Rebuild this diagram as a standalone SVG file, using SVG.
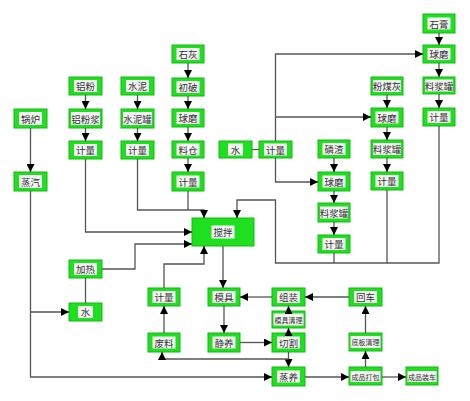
<svg xmlns="http://www.w3.org/2000/svg" width="470" height="401" viewBox="0 0 470 401">
<style>
.n{fill:#1fe01f;stroke:#17b817;stroke-width:1}
.tb{fill:#f4f4f4}
.t{font-family:"Noto Sans CJK SC","Noto Sans CJK JP",sans-serif;font-size:9.5px;fill:#333;text-anchor:middle;dominant-baseline:central}
.c path{fill:none;stroke:#555;stroke-width:1.3}
.c path.a{marker-end:url(#ah)}
</style>
<defs>
<marker id="ah" markerUnits="userSpaceOnUse" markerWidth="8" markerHeight="8" refX="8" refY="4" orient="auto">
<path d="M0,0 L8,4 L0,8 z" fill="#000"/>
</marker>
</defs>
<rect width="470" height="401" fill="#fff"/>
<g id="nodes">
<g id="n-lvfen"><rect class="n" x="69" y="77" width="33" height="18"/><rect class="tb" x="74" y="80" width="23" height="12"/><text class="t" x="85.5" y="86">铝粉</text></g>
<g id="n-lvfenjiang"><rect class="n" x="69" y="109" width="33" height="19"/><rect class="tb" x="71" y="112" width="29" height="13"/><text class="t" x="85.5" y="118.5">铝粉浆</text></g>
<g id="n-jl-a"><rect class="n" x="69" y="141" width="33" height="18"/><rect class="tb" x="74" y="144" width="23" height="12"/><text class="t" x="85.5" y="150">计量</text></g>
<g id="n-shuini"><rect class="n" x="121" y="77" width="33" height="18"/><rect class="tb" x="126" y="80" width="23" height="12"/><text class="t" x="137.5" y="86">水泥</text></g>
<g id="n-shuiniguan"><rect class="n" x="121" y="109" width="33" height="19"/><rect class="tb" x="123" y="112" width="29" height="13"/><text class="t" x="137.5" y="118.5">水泥罐</text></g>
<g id="n-jl-b"><rect class="n" x="121" y="141" width="33" height="18"/><rect class="tb" x="126" y="144" width="23" height="12"/><text class="t" x="137.5" y="150">计量</text></g>
<g id="n-guolu"><rect class="n" x="14" y="109" width="33" height="19"/><rect class="tb" x="19" y="112" width="23" height="13"/><text class="t" x="30.5" y="118.5">锅炉</text></g>
<g id="n-zhengqi"><rect class="n" x="14" y="172" width="33" height="19"/><rect class="tb" x="19" y="175" width="23" height="13"/><text class="t" x="30.5" y="181.5">蒸汽</text></g>
<g id="n-shihui"><rect class="n" x="172" y="45" width="32" height="18"/><rect class="tb" x="176.5" y="48" width="23" height="12"/><text class="t" x="188" y="54">石灰</text></g>
<g id="n-chupo"><rect class="n" x="172" y="78" width="32" height="18"/><rect class="tb" x="176.5" y="81" width="23" height="12"/><text class="t" x="188" y="87">初破</text></g>
<g id="n-qiumo1"><rect class="n" x="172" y="109" width="32" height="18"/><rect class="tb" x="176.5" y="112" width="23" height="12"/><text class="t" x="188" y="118">球磨</text></g>
<g id="n-liaocang"><rect class="n" x="172" y="141" width="32" height="17"/><rect class="tb" x="176.5" y="143.5" width="23" height="12"/><text class="t" x="188" y="149.5">料仓</text></g>
<g id="n-jl-c"><rect class="n" x="172" y="172" width="32" height="19"/><rect class="tb" x="176.5" y="175.5" width="23" height="12"/><text class="t" x="188" y="181.5">计量</text></g>
<g id="n-shui1"><rect class="n" x="219" y="141" width="33" height="17"/><rect class="tb" x="228" y="143.5" width="15" height="12"/><text class="t" x="235.5" y="149.5">水</text></g>
<g id="n-jl-d"><rect class="n" x="259" y="141" width="33" height="17"/><rect class="tb" x="264" y="143.5" width="23" height="12"/><text class="t" x="275.5" y="149.5">计量</text></g>
<g id="n-shigao"><rect class="n" x="423" y="14" width="32" height="19"/><rect class="tb" x="427.5" y="17.5" width="23" height="12"/><text class="t" x="439" y="23.5">石膏</text></g>
<g id="n-qiumo2"><rect class="n" x="423" y="45" width="32" height="18"/><rect class="tb" x="427.5" y="48" width="23" height="12"/><text class="t" x="439" y="54">球磨</text></g>
<g id="n-ljg2"><rect class="n" x="423" y="77" width="32" height="17"/><rect class="tb" x="425" y="79.5" width="28" height="12"/><text class="t" x="439" y="85.5">料浆罐</text></g>
<g id="n-jl-e"><rect class="n" x="423" y="108" width="32" height="18"/><rect class="tb" x="427.5" y="111" width="23" height="12"/><text class="t" x="439" y="117">计量</text></g>
<g id="n-fenmeihui"><rect class="n" x="371" y="77" width="32" height="18"/><rect class="tb" x="373" y="80" width="28" height="12"/><text class="t" x="387" y="86">粉煤灰</text></g>
<g id="n-qiumo3"><rect class="n" x="371" y="108" width="32" height="19"/><rect class="tb" x="375.5" y="111.5" width="23" height="12"/><text class="t" x="387" y="117.5">球磨</text></g>
<g id="n-ljg3"><rect class="n" x="371" y="140" width="32" height="18"/><rect class="tb" x="373" y="143" width="28" height="12"/><text class="t" x="387" y="149">料浆罐</text></g>
<g id="n-jl-f"><rect class="n" x="371" y="172" width="32" height="18"/><rect class="tb" x="375.5" y="175" width="23" height="12"/><text class="t" x="387" y="181">计量</text></g>
<g id="n-linzha"><rect class="n" x="318" y="140" width="32" height="18"/><rect class="tb" x="322.5" y="143" width="23" height="12"/><text class="t" x="334" y="149">磷渣</text></g>
<g id="n-qiumo4"><rect class="n" x="318" y="172" width="32" height="19"/><rect class="tb" x="322.5" y="175.5" width="23" height="12"/><text class="t" x="334" y="181.5">球磨</text></g>
<g id="n-ljg4"><rect class="n" x="318" y="203" width="32" height="19"/><rect class="tb" x="320" y="206.5" width="28" height="12"/><text class="t" x="334" y="212.5">料浆罐</text></g>
<g id="n-jl-g"><rect class="n" x="318" y="235" width="32" height="18"/><rect class="tb" x="322.5" y="238" width="23" height="12"/><text class="t" x="334" y="244">计量</text></g>
<g id="n-jiaoban"><rect class="n" x="192" y="218" width="62" height="28"/><rect class="tb" x="211.5" y="225.5" width="23" height="13"/><text class="t" x="223" y="232">搅拌</text></g>
<g id="n-jiare"><rect class="n" x="69" y="260" width="33" height="18"/><rect class="tb" x="74" y="263" width="23" height="12"/><text class="t" x="85.5" y="269">加热</text></g>
<g id="n-shui2"><rect class="n" x="69" y="303" width="33" height="18"/><rect class="tb" x="78" y="306" width="15" height="12"/><text class="t" x="85.5" y="312">水</text></g>
<g id="n-jl-h"><rect class="n" x="148" y="288" width="32" height="18"/><rect class="tb" x="152.5" y="291" width="23" height="12"/><text class="t" x="164" y="297">计量</text></g>
<g id="n-feiliao"><rect class="n" x="148" y="333" width="32" height="19"/><rect class="tb" x="152.5" y="336.5" width="23" height="12"/><text class="t" x="164" y="342.5">废料</text></g>
<g id="n-moju"><rect class="n" x="208" y="288" width="32" height="18"/><rect class="tb" x="212.5" y="291" width="23" height="12"/><text class="t" x="224" y="297">模具</text></g>
<g id="n-jingyang"><rect class="n" x="208" y="333" width="32" height="19"/><rect class="tb" x="212.5" y="336.5" width="23" height="12"/><text class="t" x="224" y="342.5">静养</text></g>
<g id="n-zuzhuang"><rect class="n" x="272" y="288" width="33" height="18"/><rect class="tb" x="277" y="291" width="23" height="12"/><text class="t" x="288.5" y="297">组装</text></g>
<g id="n-mujuqingli"><rect class="n" x="272" y="311" width="33" height="17"/><rect class="tb" x="273.5" y="313.5" width="30" height="12"/><text class="t" x="288.5" y="319.5" style="font-size:7px">模具清理</text></g>
<g id="n-qiege"><rect class="n" x="272" y="333" width="33" height="19"/><rect class="tb" x="277" y="336.5" width="23" height="12"/><text class="t" x="288.5" y="342.5">切割</text></g>
<g id="n-zhengyang"><rect class="n" x="272" y="367" width="33" height="19"/><rect class="tb" x="277" y="370.5" width="23" height="12"/><text class="t" x="288.5" y="376.5">蒸养</text></g>
<g id="n-huiche"><rect class="n" x="349" y="288" width="33" height="18"/><rect class="tb" x="354" y="291" width="23" height="12"/><text class="t" x="365.5" y="297">回车</text></g>
<g id="n-dibanqingli"><rect class="n" x="349" y="333" width="33" height="18"/><rect class="tb" x="350.5" y="336" width="30" height="12"/><text class="t" x="365.5" y="342" style="font-size:7px">底板清理</text></g>
<g id="n-chengpindabao"><rect class="n" x="349" y="367" width="33" height="18"/><rect class="tb" x="350.5" y="371" width="30" height="11"/><text class="t" x="365.5" y="376.5" style="font-size:7px">成品打包</text></g>
<g id="n-chengpinzhuangche"><rect class="n" x="406" y="367" width="32" height="18"/><rect class="tb" x="407.5" y="371" width="29" height="11"/><text class="t" x="422" y="376.5" style="font-size:7px">成品装车</text></g>
</g>
<g id="connectors" class="c">
<path class="a" d="M30.5,128 V172"/>
<path class="a" d="M30.5,191 V377 H272"/>
<path class="a" d="M30.5,312 H69"/>
<path d="M85.5,303 V278"/>
<path class="a" d="M102,269 H135 V244 H192"/>
<path class="a" d="M85.5,95 V109"/>
<path class="a" d="M85.5,128 V141"/>
<path class="a" d="M85.5,159 V232 H192"/>
<path class="a" d="M137.5,95 V109"/>
<path class="a" d="M137.5,128 V141"/>
<path class="a" d="M137.5,159 V210 H204 V218"/>
<path d="M188,191 V210"/>
<path class="a" d="M188,63 V78"/>
<path class="a" d="M188,96 V109"/>
<path class="a" d="M188,127 V141"/>
<path class="a" d="M188,158 V172"/>
<path d="M252,149.5 H259"/>
<path class="a" d="M275.5,141 V54 H423"/>
<path class="a" d="M275.5,117 H371"/>
<path class="a" d="M275.5,158 V182 H318"/>
<path class="a" d="M439,33 V45"/>
<path class="a" d="M439,63 V77"/>
<path class="a" d="M439,94 V108"/>
<path class="a" d="M439,126 V263 H275.5 V200 H237 V218"/>
<path d="M387,190 V263"/>
<path d="M334,253 V263"/>
<path class="a" d="M387,95 V108"/>
<path class="a" d="M387,127 V140"/>
<path class="a" d="M387,158 V172"/>
<path class="a" d="M334,158 V172"/>
<path class="a" d="M334,191 V203"/>
<path class="a" d="M334,222 V235"/>
<path class="a" d="M223,246 V288"/>
<path class="a" d="M164,288 V264 H204 V246"/>
<path class="a" d="M164,333 V306"/>
<path class="a" d="M272,297 H240"/>
<path class="a" d="M349,297 H305"/>
<path class="a" d="M288.5,311 V306"/>
<path class="a" d="M288.5,333 V328"/>
<path class="a" d="M224,306 V333"/>
<path class="a" d="M240,342.5 H272"/>
<path class="a" d="M288.5,352 V367"/>
<path class="a" d="M288.5,359 H162 V352"/>
<path class="a" d="M305,377 H349"/>
<path class="a" d="M365.5,367 V351"/>
<path class="a" d="M365.5,333 V306"/>
<path class="a" d="M382,377 H406"/>
</g>
</svg>
